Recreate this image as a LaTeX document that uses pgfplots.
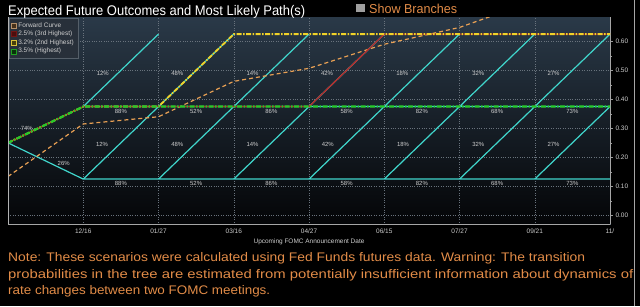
\documentclass[border=0pt]{standalone}
\usepackage{pgfplots}
\pgfplotsset{compat=1.18}
\usepackage{fontspec}
\setmainfont{Liberation Sans}
\usepackage{graphicx}
\definecolor{cyanl}{RGB}{64,214,204}
\definecolor{greenl}{RGB}{40,200,40}
\definecolor{yellowl}{RGB}{240,210,40}
\definecolor{orangel}{RGB}{232,160,84}
\definecolor{redl}{RGB}{190,35,35}
\definecolor{noteor}{RGB}{226,140,72}
\definecolor{bgtop}{RGB}{42,57,72}
\definecolor{bgbot}{RGB}{4,5,7}
\definecolor{lbl}{RGB}{205,205,205}
\definecolor{gridc}{RGB}{105,115,125}
\definecolor{legbg}{RGB}{40,48,58}
\definecolor{legbd}{RGB}{85,95,105}
\begin{document}
\begin{tikzpicture}[x=1bp,y=1bp]
\fill[black] (0,0) rectangle (640,306);
\begin{axis}[
  at={(8bp,82bp)}, anchor=south west,
  scale only axis, width=602bp, height=207bp,
  xmin=0, xmax=8, ymin=-0.031, ymax=0.683,
  axis x line*=bottom, axis y line*=right,
  axis line style={draw=gray!70, line width=0.5bp},
  axis background/.style={top color=bgtop, bottom color=bgbot},
  xtick={1,2,3,4,5,6,7,8},
  xticklabels={12/16,01/27,03/16,04/27,06/15,07/27,09/21,11/},
  ytick={0,0.1,0.2,0.3,0.4,0.5,0.6},
  minor y tick num=1,
  /pgf/number format/assume math mode=true,
  yticklabel style={/pgf/number format/fixed, /pgf/number format/fixed zerofill, /pgf/number format/precision=2, xshift=-1bp},
  ticklabel style={font=\fontsize{6.5}{7}\selectfont, text=lbl},
  xticklabel style={yshift=2bp},
  tick align=outside,
  major tick length=3bp, minor tick length=2bp,
  xtick style={draw=none},
  ytick style={draw=gray!80, line width=0.5bp},
  grid=major,
  major grid style={dotted, draw=gridc, line width=0.5bp},
  xlabel={Upcoming FOMC Announcement Date},
  xlabel style={font=\fontsize{6.5}{7}\selectfont, text=lbl, yshift=2bp},
  legend style={at={(0,1)}, anchor=north west, xshift=0.5bp, yshift=-1bp,
    fill=legbg, draw=legbd, line width=0.4bp, text=lbl,
    font=\fontsize{6.5}{7}\selectfont, inner sep=2bp, row sep=-1.6bp,
    cells={anchor=west}},
  legend cell align=left,
  clip=true,
]
\addlegendimage{legend image code/.code={\draw[line width=0.6bp, draw=orangel!50!gray, fill=orangel!30!black] (0bp,-2.5bp) rectangle (5bp,2.5bp);}}
\addlegendentry{Forward Curve}
\addlegendimage{legend image code/.code={\draw[line width=0.6bp, draw=redl!60!black, fill=redl!40!black] (0bp,-2.5bp) rectangle (5bp,2.5bp);}}
\addlegendentry{2.5\% (3rd Highest)}
\addlegendimage{legend image code/.code={\draw[line width=0.6bp, draw=yellowl!80!gray, fill=yellowl!30!black] (0bp,-2.5bp) rectangle (5bp,2.5bp);}}
\addlegendentry{3.2\% (2nd Highest)}
\addlegendimage{legend image code/.code={\draw[line width=0.6bp, draw=greenl!80!black, fill=greenl!25!black] (0bp,-2.5bp) rectangle (5bp,2.5bp);}}
\addlegendentry{3.5\% (Highest)}

% cyan tree
\addplot[forget plot, cyanl, line width=1.2bp, unbounded coords=jump] coordinates {
 (0,0.25) (1,0.125) (8,0.125) (8,nan)
 (1,0.375) (8,0.375) (8,nan)
 (1,0.125) (2,0.375) (2,nan)
 (2,0.125) (3,0.375) (3,nan)
 (3,0.125) (4,0.375) (4,nan)
 (4,0.125) (5,0.375) (5,nan)
 (5,0.125) (6,0.375) (6,nan)
 (6,0.125) (7,0.375) (7,nan)
 (7,0.125) (8,0.375) (8,nan)
 (1,0.375) (2,0.625) (2,nan)
 (2,0.375) (3,0.625) (3,nan)
 (3,0.375) (4,0.625) (4,nan)
 (4,0.375) (5,0.625) (5,nan)
 (5,0.375) (6,0.625) (6,nan)
 (6,0.375) (7,0.625) (7,nan)
 (7,0.375) (8,0.625)
};
% forward curve
\addplot[forget plot, orangel, line width=1.2bp, dash pattern=on 4bp off 3bp] coordinates {
 (0,0.134) (1,0.315) (2,0.340) (3,0.462) (4,0.507) (5,0.590) (6,0.648) (7,0.740) (8,0.800)
};
% 2.5% path
\addplot[forget plot, redl, line width=1.2bp] coordinates {
 (0,0.25) (1,0.375) (2,0.375) (3,0.375) (4,0.375) (5,0.625) (6,0.625) (7,0.625) (8,0.625)
};
% 3.2% path
\addplot[forget plot, yellowl, line width=1.8bp, dash pattern=on 5bp off 1.5bp on 1.5bp off 1.5bp] coordinates {
 (0,0.25) (1,0.375) (2,0.375) (3,0.625) (4,0.625) (5,0.625) (6,0.625) (7,0.625) (8,0.625)
};
% 3.5% path
\addplot[forget plot, greenl, line width=2.2bp, dash pattern=on 5bp off 1.5bp on 1.5bp off 1.5bp] coordinates {
 (0,0.25) (1,0.375) (2,0.375) (3,0.375) (4,0.375) (5,0.375) (6,0.375) (7,0.375) (8,0.375)
};
% probability labels
\addplot[forget plot, only marks, mark=*, mark size=0pt, mark options={draw=none, fill=none},
  point meta=explicit,
  nodes near coords={\pgfmathprintnumber[fixed,precision=0]{\pgfplotspointmeta}\%},
  nodes near coords style={anchor=center, inner sep=0pt, font=\fontsize{6}{7}\selectfont, text=lbl, text opacity=1}]
 table[meta=p] {
x y p
0.25 0.300 74
0.74 0.180 26
1.26 0.490 12
2.25 0.490 48
3.25 0.490 14
4.24 0.490 42
5.24 0.490 18
6.25 0.490 32
7.25 0.490 27
1.50 0.358 88
2.50 0.358 52
3.50 0.358 86
4.50 0.358 58
5.50 0.358 82
6.50 0.358 68
7.50 0.358 73
1.25 0.245 12
2.25 0.245 48
3.25 0.245 14
4.25 0.245 42
5.25 0.245 18
6.25 0.245 32
7.25 0.245 27
1.50 0.110 88
2.50 0.110 52
3.50 0.110 86
4.50 0.110 58
5.50 0.110 82
6.50 0.110 68
7.50 0.110 73
};
\draw[gray!60, line width=0.5bp] (rel axis cs:0,0) -- (rel axis cs:0,1);
\end{axis}
% title bar
\node[anchor=base west, inner sep=0, text=white] at (8,291)
  {\resizebox{297bp}{\height}{\fontsize{14}{16}\selectfont Expected Future Outcomes and Most Likely Path(s)}};
\fill[gray!75] (356,294) rectangle (365,302);
\node[anchor=base west, inner sep=0, text=noteor] at (369,293)
  {\resizebox{88bp}{\height}{\fontsize{13}{15}\selectfont Show Branches}};
% note
\node[anchor=base west, inner sep=0, text=noteor] at (8,45)
  {\resizebox{577bp}{\height}{\fontsize{12.5}{15}\selectfont Note: These scenarios were calculated using Fed Funds futures data. Warning: The transition}};
\node[anchor=base west, inner sep=0, text=noteor] at (8,28)
  {\resizebox{625bp}{\height}{\fontsize{12.5}{15}\selectfont probabilities in the tree are estimated from potentially insufficient information about dynamics of}};
\node[anchor=base west, inner sep=0, text=noteor] at (8,12)
  {\resizebox{262bp}{\height}{\fontsize{12.5}{15}\selectfont rate changes between two FOMC meetings.}};
\draw[gray!70, line width=0.6bp] (634.5,0) -- (634.5,306);
\end{tikzpicture}
\end{document}
